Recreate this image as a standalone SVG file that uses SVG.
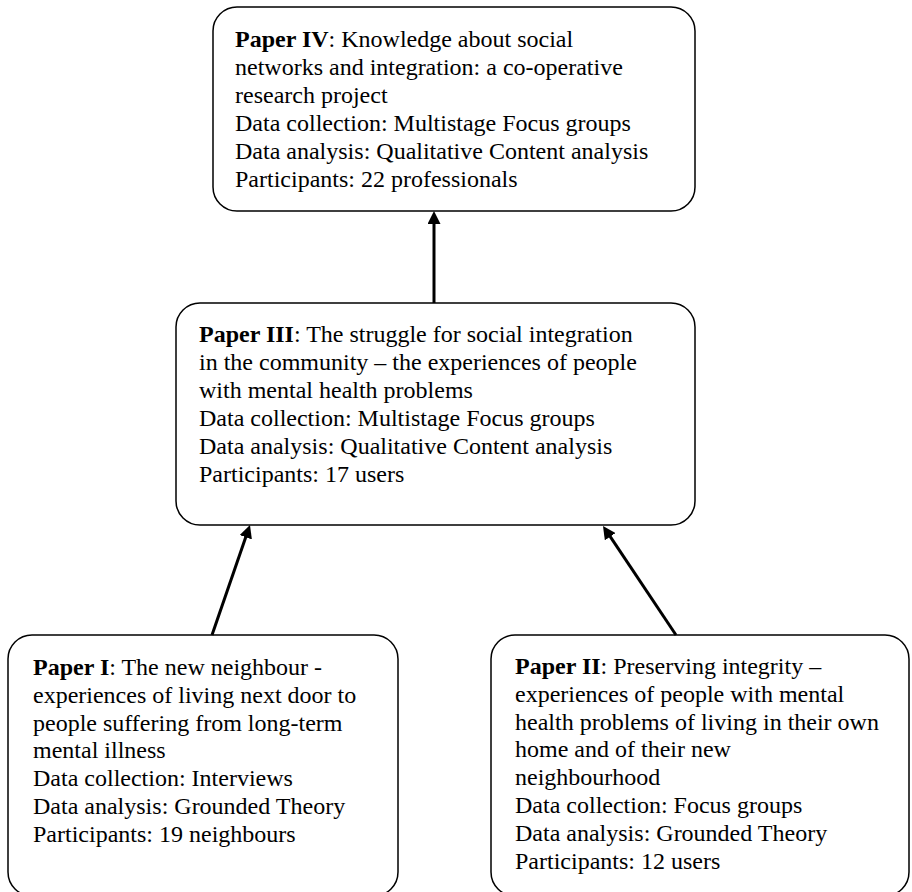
<svg xmlns="http://www.w3.org/2000/svg" width="912" height="892" viewBox="0 0 912 892">
  <style>
    .box { fill: #ffffff; stroke: #000000; stroke-width: 1.5; }
    .t { font-family: "Liberation Serif", "Times New Roman", serif; font-size: 24px; fill: #000000; }
    .b { font-weight: bold; }
    .conn { stroke: #000000; stroke-width: 3; fill: none; marker-end: url(#ah); }
  </style>
  <defs>
    <marker id="ah" markerUnits="userSpaceOnUse" markerWidth="14" markerHeight="13" refX="6" refY="6.5" orient="auto">
      <path d="M0,0 L13,6.5 L0,13 z" fill="#000000"/>
    </marker>
  </defs>
  <rect width="912" height="892" fill="#ffffff"/>

  <g id="paper4">
    <rect class="box" x="213" y="7" width="482" height="204" rx="24" ry="24"/>
    <text class="t" x="235" y="47"><tspan class="b">Paper IV</tspan>: Knowledge about social</text>
    <text class="t" x="235" y="75">networks and integration: a co-operative</text>
    <text class="t" x="235" y="103">research project</text>
    <text class="t" x="235" y="131">Data collection: Multistage Focus groups</text>
    <text class="t" x="235" y="159">Data analysis: Qualitative Content analysis</text>
    <text class="t" x="235" y="187">Participants: 22 professionals</text>
  </g>

  <g id="paper3">
    <rect class="box" x="176" y="303" width="519" height="222" rx="24" ry="24"/>
    <text class="t" x="199" y="342"><tspan class="b">Paper III</tspan>: The struggle for social integration</text>
    <text class="t" x="199" y="370">in the community – the experiences of people</text>
    <text class="t" x="199" y="398">with mental health problems</text>
    <text class="t" x="199" y="426">Data collection: Multistage Focus groups</text>
    <text class="t" x="199" y="454">Data analysis: Qualitative Content analysis</text>
    <text class="t" x="199" y="482">Participants: 17 users</text>
  </g>

  <g id="paper1">
    <rect class="box" x="8" y="635" width="390" height="261" rx="24" ry="24"/>
    <text class="t" x="33" y="675"><tspan class="b">Paper I</tspan>: The new neighbour -</text>
    <text class="t" x="33" y="702.8">experiences of living next door to</text>
    <text class="t" x="33" y="730.6">people suffering from long-term</text>
    <text class="t" x="33" y="758.4">mental illness</text>
    <text class="t" x="33" y="786.2">Data collection: Interviews</text>
    <text class="t" x="33" y="814">Data analysis: Grounded Theory</text>
    <text class="t" x="33" y="841.8">Participants: 19 neighbours</text>
  </g>

  <g id="paper2">
    <rect class="box" x="491" y="635" width="418" height="261" rx="24" ry="24"/>
    <text class="t" x="515" y="674"><tspan class="b">Paper II</tspan>: Preserving integrity –</text>
    <text class="t" x="515" y="701.8">experiences of people with mental</text>
    <text class="t" x="515" y="729.6">health problems of living in their own</text>
    <text class="t" x="515" y="757.4">home and of their new</text>
    <text class="t" x="515" y="785.2">neighbourhood</text>
    <text class="t" x="515" y="813">Data collection: Focus groups</text>
    <text class="t" x="515" y="840.8">Data analysis: Grounded Theory</text>
    <text class="t" x="515" y="868.6">Participants: 12 users</text>
  </g>

  <g id="connectors">
    <line class="conn" x1="434" y1="303" x2="434" y2="218"/>
    <line class="conn" x1="212" y1="635" x2="247.7" y2="531.6"/>
    <line class="conn" x1="676" y1="635" x2="606.9" y2="531.7"/>
  </g>
</svg>
